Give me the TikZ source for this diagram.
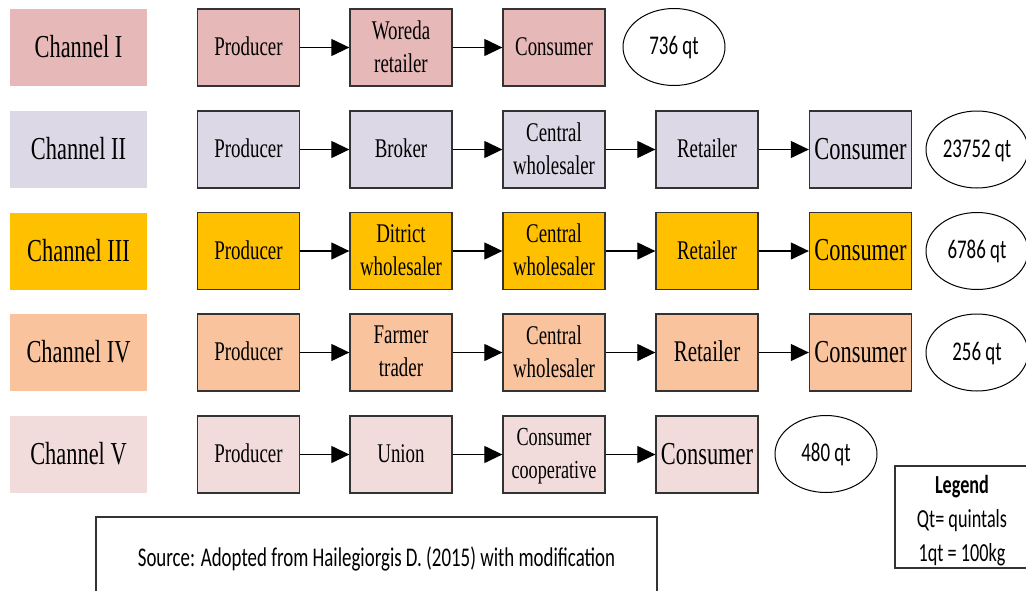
\documentclass[tikz,border=0pt]{standalone}
\usepackage{fontspec}
\usetikzlibrary{arrows.meta,shapes.geometric}
\newfontfamily\serifc[FakeStretch=0.7]{Liberation Serif}
\newfontfamily\sansc[FakeStretch=0.7]{Carlito}
\definecolor{cA}{HTML}{E6B8B7}
\definecolor{cB}{HTML}{DDD8E6}
\definecolor{cC}{HTML}{FFC000}
\definecolor{cD}{HTML}{F8C39D}
\definecolor{cE}{HTML}{F2DCDB}
\tikzset{
  box/.style={draw=black!80, line width=1.3pt, minimum width=102pt, minimum height=77pt,
    inner sep=0pt, align=center, text depth=0.2em, font=\serifc\fontsize{27}{33}\selectfont},
  big/.style={font=\serifc\fontsize{32}{38}\selectfont},
  mid/.style={font=\serifc\fontsize{26}{33}\selectfont},
  chan/.style={minimum width=137pt, minimum height=77pt, inner sep=0pt, text depth=0.2em,
    font=\serifc\fontsize{32}{38}\selectfont},
  qty/.style={draw, ellipse, line width=1pt, minimum width=102pt, minimum height=77pt,
    inner sep=0pt, text depth=0.25em, font=\sansc\fontsize{27}{32}\selectfont},
  flow/.style={-{Triangle[length=18pt,width=17pt]}, line width=1.2pt}
}
\begin{document}
\begin{tikzpicture}[x=1pt,y=-1pt]
\useasboundingbox (0,0) rectangle (1026,590);
\clip (0,0) rectangle (1026,590);
\fill[white] (0,0) rectangle (1026,590);
% channel labels
\node[chan, fill=cA] (ch1) at (78.5,47.5) {Channel I};
\node[chan, fill=cB] (ch2) at (78.5,149.5) {Channel II};
\node[chan, fill=cC] (ch3) at (78.5,251) {Channel III};
\node[chan, fill=cD] (ch4) at (78.5,352.5) {Channel IV};
\node[chan, fill=cE] (ch5) at (78.5,454.5) {Channel V};
% row 1
\node[box, fill=cA] (a1) at (248.5,47.5) {Producer};
\node[box, fill=cA] (a2) at (401,47.5) {Woreda\\retailer};
\node[box, fill=cA] (a3) at (554,47.5) {Consumer};
\node[qty] (e1) at (674,47) {736 qt};
\draw[flow] (a1) -- (a2);
\draw[flow] (a2) -- (a3);
% row 2
\node[box, fill=cB] (b1) at (248.5,149.5) {Producer};
\node[box, fill=cB] (b2) at (401,149.5) {Broker};
\node[box, fill=cB] (b3) at (554,149.5) {Central\\wholesaler};
\node[box, fill=cB] (b4) at (707,149.5) {Retailer};
\node[box, big, fill=cB] (b5) at (860.5,149.5) {Consumer};
\node[qty] (e2) at (977,149.5) {23752 qt};
\draw[flow] (b1) -- (b2);
\draw[flow] (b2) -- (b3);
\draw[flow] (b3) -- (b4);
\draw[flow] (b4) -- (b5);
% row 3
\node[box, fill=cC] (c1) at (248.5,251) {Producer};
\node[box, fill=cC] (c2) at (401,251) {Ditrict\\wholesaler};
\node[box, fill=cC] (c3) at (554,251) {Central\\wholesaler};
\node[box, fill=cC] (c4) at (707,251) {Retailer};
\node[box, big, fill=cC] (c5) at (860.5,251) {Consumer};
\node[qty] (e3) at (977,251) {6786 qt};
\draw[flow] (c1) -- (c2);
\draw[flow] (c2) -- (c3);
\draw[flow] (c3) -- (c4);
\draw[flow] (c4) -- (c5);
% row 4
\node[box, fill=cD] (d1) at (248.5,352.5) {Producer};
\node[box, fill=cD] (d2) at (401,352.5) {Farmer\\trader};
\node[box, fill=cD] (d3) at (554,352.5) {Central\\wholesaler};
\node[box, fill=cD, font=\serifc\fontsize{30}{36}\selectfont] (d4) at (707,352.5) {Retailer};
\node[box, big, fill=cD] (d5) at (860.5,352.5) {Consumer};
\node[qty] (e4) at (977,352.5) {256 qt};
\draw[flow] (d1) -- (d2);
\draw[flow] (d2) -- (d3);
\draw[flow] (d3) -- (d4);
\draw[flow] (d4) -- (d5);
% row 5
\node[box, fill=cE] (f1) at (248.5,454.5) {Producer};
\node[box, fill=cE] (f2) at (401,454.5) {Union};
\node[box, mid, fill=cE] (f3) at (554,454.5) {Consumer\\cooperative};
\node[box, big, fill=cE] (f4) at (707,454.5) {Consumer};
\node[qty] (e5) at (826,454) {480 qt};
\draw[flow] (f1) -- (f2);
\draw[flow] (f2) -- (f3);
\draw[flow] (f3) -- (f4);
% legend
\draw[line width=1.3pt, draw=black!80] (895,466) rectangle (1040,568);
\node[align=center, font=\sansc\fontsize{26}{34}\selectfont] (legend) at (962,521)
  {\textbf{Legend}\\Qt= quintals\\1qt = 100kg};
% source
\draw[line width=1.3pt, draw=black!80] (96,517) rectangle (657,600);
\node[font=\sansc\fontsize{27}{32}\selectfont] (source) at (376.5,559)
  {Source: Adopted from Hailegiorgis D. (2015) with modification};
\end{tikzpicture}
\end{document}
